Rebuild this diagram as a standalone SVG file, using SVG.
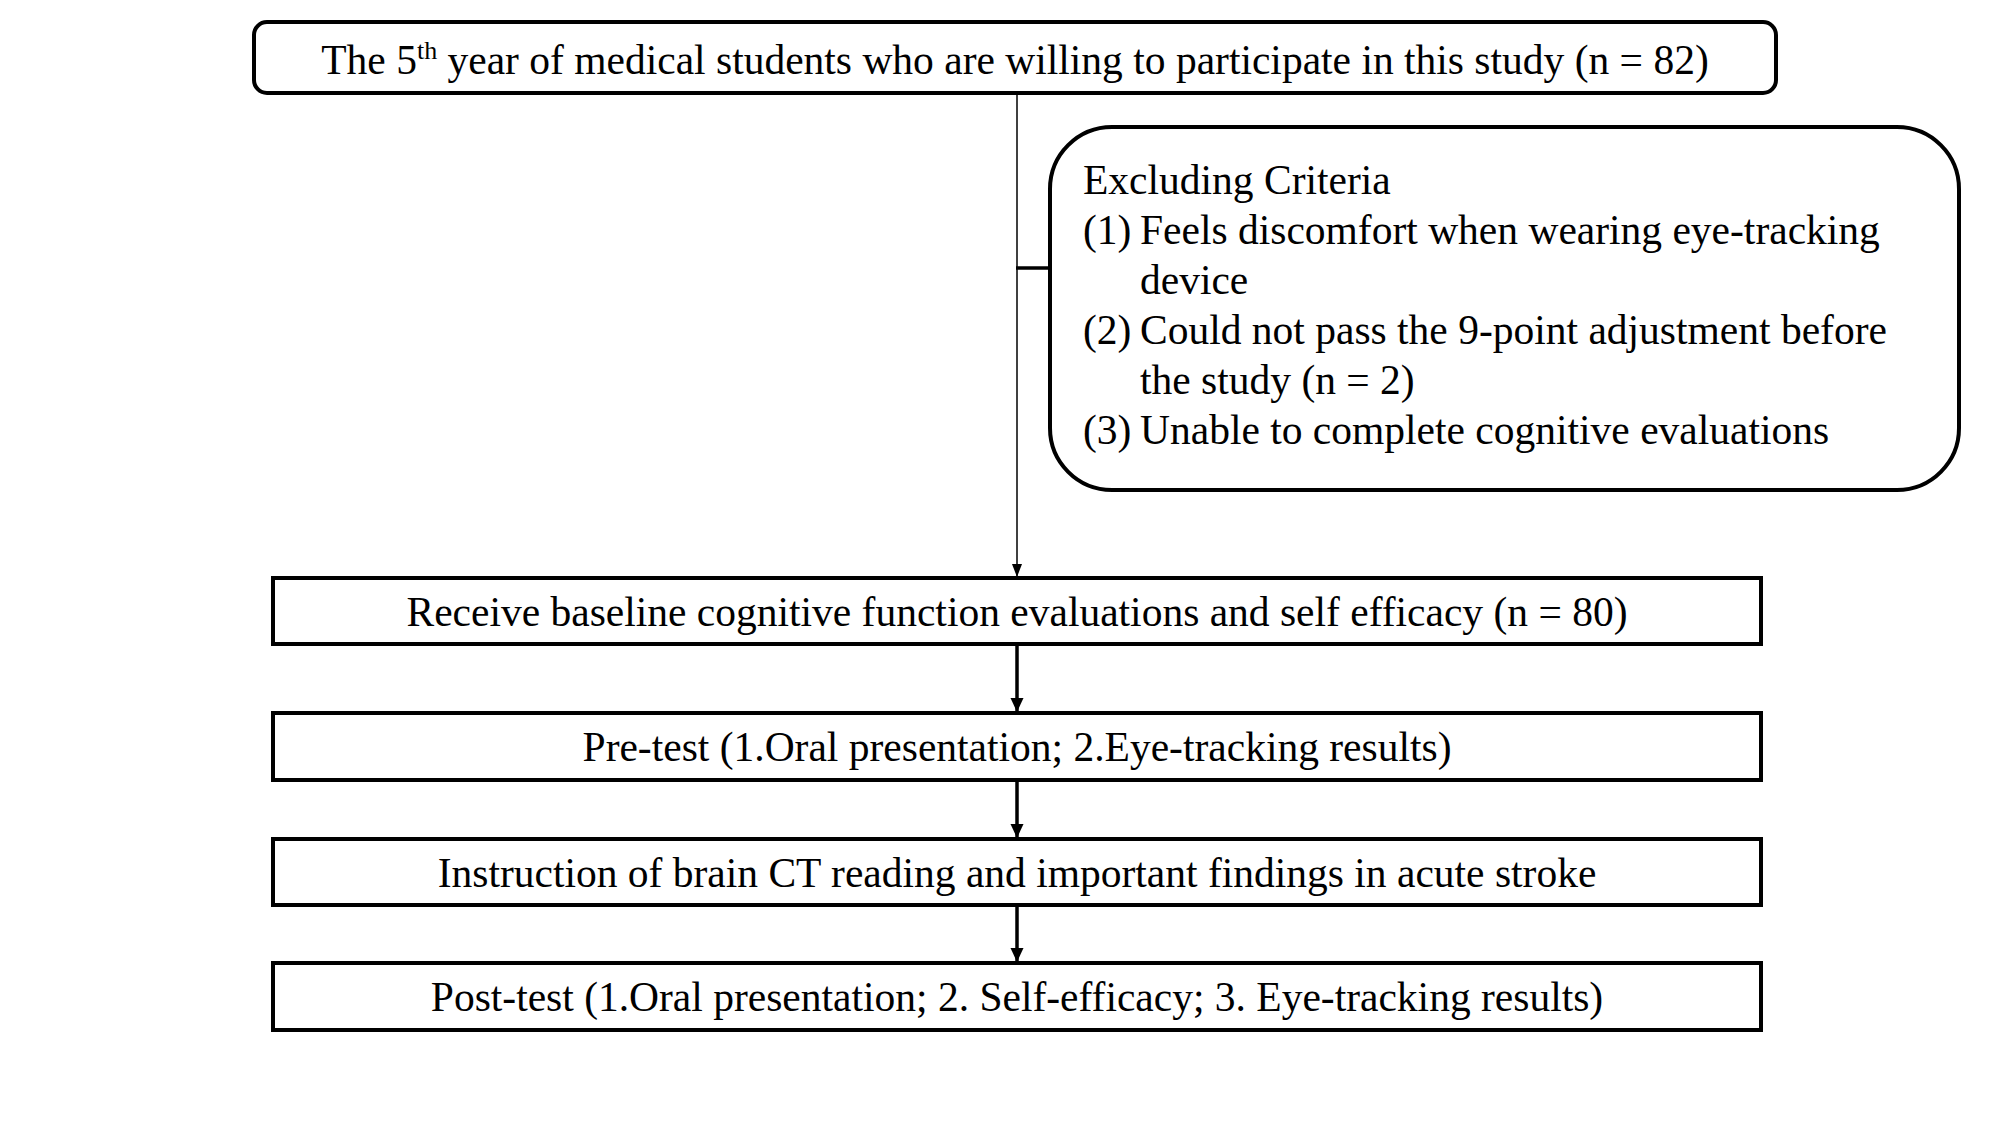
<svg xmlns="http://www.w3.org/2000/svg" width="2008" height="1130" viewBox="0 0 2008 1130">
  <style>
    .box { fill: #ffffff; stroke: #000000; stroke-width: 4; }
    .lbl { font-family: "Liberation Serif", "Times New Roman", serif; font-size: 41.5px; fill: #000000; }
    .mid { text-anchor: middle; }
    .thin { stroke: #000000; stroke-width: 1.5; fill: none; }
    .thick { stroke: #000000; stroke-width: 3.5; fill: none; }
  </style>
  <defs>
    <marker id="arrowThin" markerUnits="userSpaceOnUse" markerWidth="13" markerHeight="12" refX="13" refY="5" orient="auto">
      <path d="M0,0 L13,5 L0,10 Z" fill="#000000"/>
    </marker>
    <marker id="arrowThick" markerUnits="userSpaceOnUse" markerWidth="14" markerHeight="14" refX="14" refY="6.5" orient="auto">
      <path d="M0,0 L14,6.5 L0,13 Z" fill="#000000"/>
    </marker>
  </defs>

  <g id="connectors">
    <line class="thin" x1="1017" y1="94" x2="1017" y2="577" marker-end="url(#arrowThin)"/>
    <line class="thick" x1="1016" y1="268" x2="1050" y2="268"/>
    <line class="thick" x1="1017" y1="645" x2="1017" y2="712" marker-end="url(#arrowThick)"/>
    <line class="thick" x1="1017" y1="781" x2="1017" y2="838" marker-end="url(#arrowThick)"/>
    <line class="thick" x1="1017" y1="906" x2="1017" y2="962" marker-end="url(#arrowThick)"/>
  </g>

  <g id="node-enrolled">
    <rect class="box" x="254" y="22" width="1522" height="71" rx="13" ry="13"/>
    <text class="lbl mid" x="1015" y="74">The 5<tspan font-size="26" dy="-15">th</tspan><tspan dy="15"> year of medical students who are willing to participate in this study (n = 82)</tspan></text>
  </g>

  <g id="node-excluding">
    <rect class="box" x="1050" y="127" width="909" height="363" rx="62" ry="62"/>
    <text class="lbl" x="1083" y="194">Excluding Criteria</text>
    <text class="lbl" x="1083" y="244">(1)</text>
    <text class="lbl" x="1140" y="244">Feels discomfort when wearing eye-tracking</text>
    <text class="lbl" x="1140" y="294">device</text>
    <text class="lbl" x="1083" y="344">(2)</text>
    <text class="lbl" x="1140" y="344">Could not pass the 9-point adjustment before</text>
    <text class="lbl" x="1140" y="394">the study (n = 2)</text>
    <text class="lbl" x="1083" y="444">(3)</text>
    <text class="lbl" x="1140" y="444">Unable to complete cognitive evaluations</text>
  </g>

  <g id="node-baseline">
    <rect class="box" x="273" y="578" width="1488" height="66"/>
    <text class="lbl mid" x="1017" y="626">Receive baseline cognitive function evaluations and self efficacy (n = 80)</text>
  </g>

  <g id="node-pretest">
    <rect class="box" x="273" y="713" width="1488" height="67"/>
    <text class="lbl mid" x="1017" y="761">Pre-test (1.Oral presentation; 2.Eye-tracking results)</text>
  </g>

  <g id="node-instruction">
    <rect class="box" x="273" y="839" width="1488" height="66"/>
    <text class="lbl mid" x="1017" y="887">Instruction of brain CT reading and important findings in acute stroke</text>
  </g>

  <g id="node-posttest">
    <rect class="box" x="273" y="963" width="1488" height="67"/>
    <text class="lbl mid" x="1017" y="1011">Post-test (1.Oral presentation; 2. Self-efficacy; 3. Eye-tracking results)</text>
  </g>
</svg>
